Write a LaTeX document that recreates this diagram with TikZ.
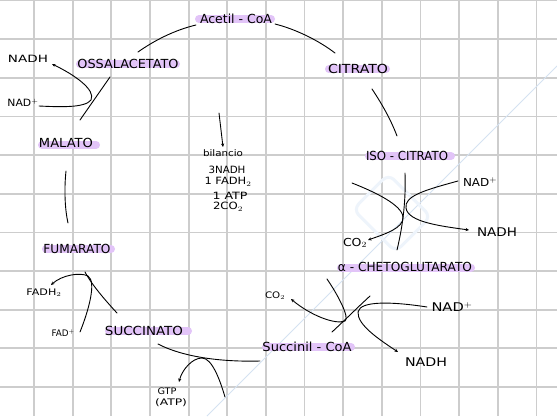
\documentclass[tikz,border=0pt]{standalone}
\usepackage{fontspec}
\setmainfont{DejaVu Sans}
\usetikzlibrary{arrows.meta}
\definecolor{gridc}{RGB}{205,205,205}
\definecolor{hl}{RGB}{226,196,248}
\definecolor{wm}{RGB}{212,226,242}
\definecolor{wmlogo}{RGB}{238,244,251}
\newcommand{\fw}[2]{\resizebox{#1pt}{\height}{#2}}
\newcommand{\fs}[1]{\fontsize{#1}{#1}\selectfont}
\begin{document}
\begin{tikzpicture}[x=1pt,y=-1pt,
  lbl/.style={inner sep=0pt, anchor=center},
  rx/.style={line width=0.9pt, line cap=round, black},
  arr/.style={-{Stealth[length=3.5pt,width=3.2pt]}},
  hlt/.style={line width=8pt, line cap=round, hl}]
\useasboundingbox (0,0) rectangle (557,416);
\fill[white] (0,0) rectangle (557,416);
% grid
\foreach \k in {0,...,13} \draw[gridc, line width=1.8pt] ({34+38.65*\k},0) -- ({34+38.65*\k},416);
\foreach \k in {0,...,10} \draw[gridc, line width=1.8pt] (0,{0.5+38.65*\k}) -- (557,{0.5+38.65*\k});
% watermark
\draw[wm, line width=1pt] (207,416) -- (557,66);
\draw[wmlogo, line width=3pt, rounded corners=8pt, rotate around={45:(392,213)}] (367,183) rectangle (417,243);
% highlights
\draw[hlt] (199,19) -- (271,19);
\draw[hlt] (80,64) -- (176,64);
\draw[hlt] (329,69) -- (386,69);
\draw[hlt] (369,156) -- (451,156);
\draw[hlt] (341,267.5) -- (471,267.5);
\draw[hlt] (266,347) -- (351,347);
\draw[hlt] (109,331) -- (188,331);
\draw[hlt] (46,249) -- (111,249);
\draw[hlt] (42,145) -- (96,145);
% main labels
\node[lbl,font=\fs{12.5}] (acoa) at (236,19) {\fw{72}{Acetil - CoA}};
\node[lbl,font=\fs{12.5}] (oaa) at (128,63.5) {\fw{101}{OSSALACETATO}};
\node[lbl,font=\fs{12.5}] (cit) at (358,69) {\fw{60}{CITRATO}};
\node[lbl,font=\fs{12.5}] (iso) at (407,156) {\fw{82}{ISO - CITRATO}};
\node[lbl,font=\fs{12.5}] (akg) at (405,267) {\fw{134}{α - CHETOGLUTARATO}};
\node[lbl,font=\fs{12.5}] (scoa) at (307,347) {\fw{89}{Succinil - CoA}};
\node[lbl,font=\fs{12.5}] (succ) at (144,331) {\fw{78}{SUCCINATO}};
\node[lbl,font=\fs{12.5}] (fum) at (77,249) {\fw{67}{FUMARATO}};
\node[lbl,font=\fs{12.5}] (mal) at (66,143) {\fw{54}{MALATO}};
% side labels
\node[lbl,font=\fs{10}] (nadh1) at (28,59) {\fw{40}{NADH}};
\node[lbl,font=\fs{10}] (nad1) at (23,103) {\fw{31}{NAD$^+$}};
\node[lbl,font=\fs{11}] (nad2) at (480,182) {\fw{34}{NAD$^+$}};
\node[lbl,font=\fs{12}] (nadh2) at (497,232) {\fw{40}{NADH}};
\node[lbl,font=\fs{11}] (co2a) at (355,243) {\fw{24}{CO$_2$}};
\node[lbl,font=\fs{9}] (co2b) at (275,296) {\fw{20}{CO$_2$}};
\node[lbl,font=\fs{12}] (nad3) at (452,307) {\fw{41}{NAD$^+$}};
\node[lbl,font=\fs{12}] (nadh3) at (426,362) {\fw{42}{NADH}};
\node[lbl,font=\fs{9}] (gtp) at (167,391) {\fw{19}{GTP}};
\node[lbl,font=\fs{9}] (atp) at (171,403) {\fw{32}{(ATP)}};
\node[lbl,font=\fs{9}] (fadh) at (44,293) {\fw{35}{FADH$_2$}};
\node[lbl,font=\fs{9}] (fad) at (63,333) {\fw{23}{FAD$^+$}};
% balance
\node[lbl,font=\fs{9}] (bil) at (223,153.5) {\fw{40}{bilancio}};
\node[lbl,font=\fs{10}] (b1) at (227,170) {\fw{37}{3NADH}};
\node[lbl,font=\fs{10}] (b2) at (228,182) {\fw{47}{1 FADH$_2$}};
\node[lbl,font=\fs{10}] (b3) at (230,196) {\fw{35}{1 ATP}};
\node[lbl,font=\fs{10}] (b4) at (228,207) {\fw{30}{2CO$_2$}};
\coordinate (bilT) at (219,113);
\coordinate (bilH) at (223,147);
\draw[rx,arr] (bilT) -- (bilH);
% cycle arcs
\coordinate (a1) at (138,52); \coordinate (a2) at (196,25);
\draw[rx] (a1) .. controls (155,40) and (175,30) .. (a2);
\coordinate (b1s) at (275,24); \coordinate (b1e) at (335,53);
\draw[rx] (b1s) .. controls (295,29) and (318,40) .. (b1e);
\coordinate (c1) at (372,89); \coordinate (c2) at (397,136);
\draw[rx] (c1) .. controls (382,104) and (391,120) .. (c2);
\coordinate (d1) at (405,173); \coordinate (d2) at (397,250);
\draw[rx] (d1) .. controls (406,200) and (403,225) .. (d2);
\coordinate (e1) at (332,332); \coordinate (e2) at (370,296);
\draw[rx] (e1) .. controls (345,320) and (358,307) .. (e2);
\coordinate (f1) at (260,361); \coordinate (f2) at (158,344);
\draw[rx] (f1) .. controls (225,362) and (185,358) .. (f2);
\coordinate (g1) at (117,313); \coordinate (g2) at (85,272);
\draw[rx] (g1) .. controls (105,300) and (92,285) .. (g2);
\coordinate (h1) at (66,171); \coordinate (h2) at (68,223);
\draw[rx] (h1) .. controls (64,190) and (65,210) .. (h2);
\coordinate (i1) at (80,120); \coordinate (i2) at (110,77);
\draw[rx] (i1) -- (i2);
% hairpins
\draw[rx,arr] (39,106) .. controls (60,107) and (85,108) .. (91,100) .. controls (96,90) and (75,75) .. (52,64);
\draw[rx,arr] (352,183) .. controls (375,192) and (402,205) .. (403,217) .. controls (404,228) and (385,234) .. (368,240);
\draw[rx,arr] (458,181) .. controls (425,190) and (404,196) .. (406,208) .. controls (408,222) and (440,226) .. (469,230);
\draw[rx,arr] (327,279) .. controls (338,295) and (350,318) .. (345,321) .. controls (335,325) and (310,315) .. (291,299);
\draw[rx,arr] (427,307) .. controls (395,302) and (360,300) .. (358,312) .. controls (357,325) and (380,340) .. (398,352);
\draw[rx,arr] (225,397) .. controls (220,380) and (212,358) .. (202,358) .. controls (192,358) and (182,370) .. (179,382);
\draw[rx,arr] (80,332) .. controls (88,312) and (97,282) .. (88,276) .. controls (80,272) and (62,275) .. (51,285);
\end{tikzpicture}
\end{document}
